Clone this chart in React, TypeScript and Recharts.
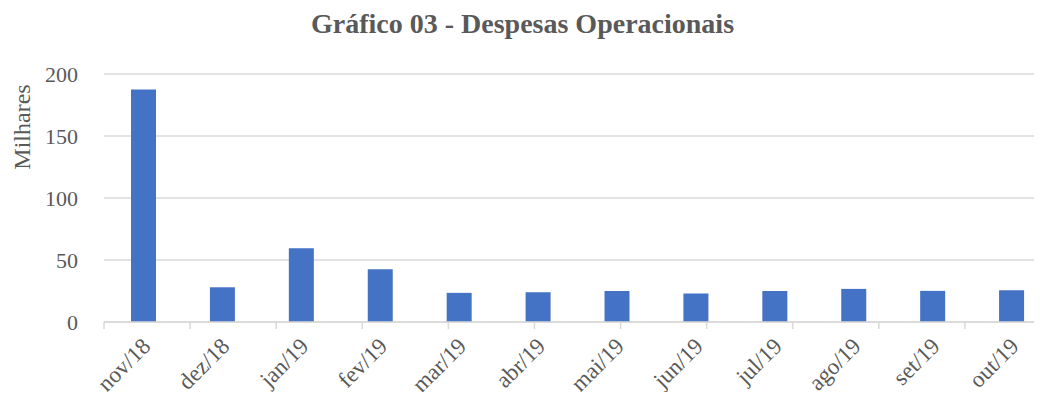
import { BarChart, Bar, XAxis, YAxis, CartesianGrid } from "recharts"

const months = ["nov/18", "dez/18", "jan/19", "fev/19", "mar/19", "abr/19", "mai/19", "jun/19", "jul/19", "ago/19", "set/19", "out/19"]
const despesas = [187.5, 28, 59.5, 42.5, 23.5, 24, 25, 23, 25, 26.7, 25.1, 25.7]
const yTicks = [0, 50, 100, 150, 200]
const boundaryTicks = months.map((_, i) => i).concat([months.length])

const data = months.map((m, i) => ({ month: m, value: despesas[i] }))

const textColor = "#595959"
const gridColor = "#d9d9d9"
const font = "'Liberation Serif', 'DejaVu Serif', serif"

const EmptyTick = () => <g />

export default function App() {
  return (
    <div style={{ position: "relative", width: 1042, height: 400, margin: -8, overflow: "hidden", background: "#fff", fontFamily: font }}>
      <div style={{ position: "absolute", top: 10, left: 0, width: 1045, textAlign: "center", fontSize: 28, lineHeight: "28px", fontWeight: "bold", color: textColor }}>
        Gráfico 03 - Despesas Operacionais
      </div>
      <div style={{ position: "absolute", left: 22, top: 127, fontSize: 24, lineHeight: "24px", color: textColor, transform: "translate(-50%, -50%) rotate(-90deg)", whiteSpace: "nowrap" }}>
        Milhares
      </div>
      <BarChart width={1060} height={400} data={data} margin={{ top: 74, right: 9, bottom: 0, left: 0 }}>
        <CartesianGrid horizontal vertical={false} stroke={gridColor} strokeWidth={1.3} xAxisId="cat" />
        <XAxis
          xAxisId="bounds"
          type="number"
          domain={[0, months.length]}
          ticks={boundaryTicks}
          tick={EmptyTick}
          height={1}
          axisLine={{ stroke: gridColor, strokeWidth: 1.5 }}
          tickLine={{ stroke: gridColor, strokeWidth: 1.5 }}
          tickSize={7}
          allowDataOverflow
        />
        <XAxis
          xAxisId="cat"
          dataKey="month"
          height={77}
          axisLine={false}
          tickLine={false}
          interval={0}
          angle={-45}
          textAnchor="end"
          tickSize={0}
          tickMargin={13}
          tick={{ fill: textColor, fontSize: 23, fontFamily: font, dx: -3 }}
        />
        <YAxis
          domain={[0, 200]}
          ticks={yTicks}
          width={104}
          axisLine={false}
          tickLine={false}
          tickSize={0}
          tickMargin={26}
          tick={{ fill: textColor, fontSize: 22, fontFamily: font }}
        />
        <Bar dataKey="value" xAxisId="cat" fill="#4472C4" barSize={25} isAnimationActive={false} />
      </BarChart>
    </div>
  )
}
